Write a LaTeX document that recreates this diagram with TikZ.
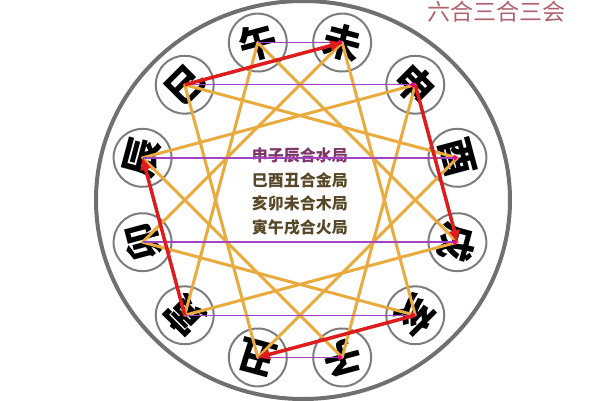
\documentclass[tikz,border=0pt]{standalone}
\usepackage{fontspec}
\newfontfamily\cjk{Noto Sans CJK SC}
\usetikzlibrary{arrows.meta}

\definecolor{rim}{RGB}{112,112,112}
\definecolor{ringgray}{RGB}{125,125,125}
\definecolor{trinecol}{RGB}{233,170,62}
\definecolor{paircol}{RGB}{165,65,195}
\definecolor{seasoncol}{RGB}{222,28,28}
\definecolor{memocol}{RGB}{88,72,40}
\definecolor{memofirst}{RGB}{125,55,105}
\definecolor{headcol}{RGB}{175,100,110}

\tikzset{
  branch/.style={circle, draw=ringgray, line width=2pt, fill=white,
    minimum size=58pt, inner sep=0pt,
    font=\cjk\bfseries\fontsize{38}{38}\selectfont},
  memo/.style={text=memocol, font=\cjk\bfseries\fontsize{16}{16}\selectfont},
  trine/.style={trinecol, line width=3pt, line join=round},
  pair/.style={paircol, line width=1.4pt, -{Circle[length=5pt, magenta]}},
  season/.style={seasoncol, line width=3.5pt, -{Triangle[length=12pt, width=10pt]}}
}

\begin{document}
\begin{tikzpicture}[x=1pt, y=1pt]

  \newcommand\R{163};

  \useasboundingbox (-300,-200) rectangle (300,200);
  \fill[white] (-300,-200) rectangle (300,200);

  \draw[rim, line width=4pt] (3,0) ellipse [x radius=207pt, y radius=199pt];

  %% the twelve branches, top pointing outwards
  \node[branch, rotate=15]   (wu)   at (105:\R)  {午};
  \node[branch, rotate=-15]  (wei)  at (75:\R)   {未};
  \node[branch, rotate=-45]  (shen) at (45:\R)   {申};
  \node[branch, rotate=-75]  (you)  at (15:\R)   {酉};
  \node[branch, rotate=-105] (xu)   at (-15:\R)  {戌};
  \node[branch, rotate=-135] (hai)  at (-45:\R)  {亥};
  \node[branch, rotate=-165] (zi)   at (-75:\R)  {子};
  \node[branch, rotate=165]  (chou) at (-105:\R) {丑};
  \node[branch, rotate=135]  (yin)  at (-135:\R) {寅};
  \node[branch, rotate=105]  (mao)  at (-165:\R) {卯};
  \node[branch, rotate=75]   (chen) at (165:\R)  {辰};
  \node[branch, rotate=45]   (si)   at (135:\R)  {巳};

  \node[memo, text=memofirst] (water) at (0,45)  {申子辰合水局};
  \node[memo]                 (metal) at (0,20)  {巳酉丑合金局};
  \node[memo]                 (wood)  at (0,-3)  {亥卯未合木局};
  \node[memo]                 (fire)  at (0,-28) {寅午戌合火局};

  \node[text=headcol, font=\cjk\fontsize{23}{23}\selectfont] (title) at (197,188) {六合三合三会};

  %% san he triangles
  \draw[trine] (shen.center) -- (zi.center) -- (chen.center) -- cycle; %% water
  \draw[trine] (si.center) -- (you.center) -- (chou.center) -- cycle;  %% metal
  \draw[trine] (hai.center) -- (mao.center) -- (wei.center) -- cycle;  %% wood
  \draw[trine] (yin.center) -- (wu.center) -- (xu.center) -- cycle;    %% fire

  %% liu he pairs
  \draw[pair] (wu.center)   -- (wei.center);
  \draw[pair] (si.center)   -- (shen.center);
  \draw[pair] (chen.center) -- (you.center);
  \draw[pair] (mao.center)  -- (xu.center);
  \draw[pair] (yin.center)  -- (hai.center);
  \draw[pair] (chou.center) -- (zi.center);

  %% san hui
  \draw[season] (si.center)   -- (wei.center);  %% si->wei
  \draw[season] (shen.center) -- (xu.center);   %% shen->xu
  \draw[season] (hai.center)  -- (chou.center); %% hai->chou
  \draw[season] (yin.center)  -- (chen.center); %% yin->chen

\end{tikzpicture}
\end{document}
